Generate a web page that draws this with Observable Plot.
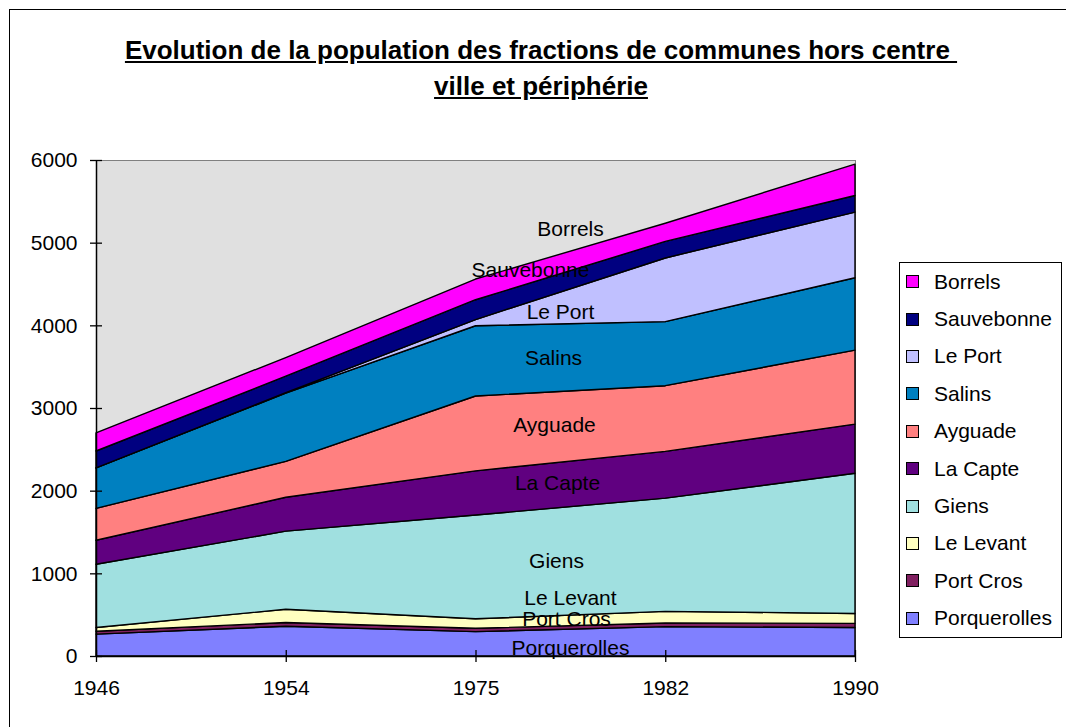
<!DOCTYPE html>
<html><head><meta charset="utf-8">
<script src="https://cdn.jsdelivr.net/npm/d3@7"></script>
<script src="https://cdn.jsdelivr.net/npm/@observablehq/plot@0.6"></script>
<style>
body{margin:0;background:#fff;font-family:"Liberation Sans",Arial,sans-serif;overflow:hidden}
#wrap{position:relative;width:1066px;height:727px;overflow:hidden}
#chart{position:absolute;left:0;top:0}
#frame{position:absolute;left:9px;top:9px;width:1100px;height:760px;border:1.5px solid #000;box-sizing:border-box}
#title{position:absolute;left:10px;width:1062px;top:32px;text-align:center;font-weight:bold;font-size:26px;line-height:36px;text-decoration:underline;white-space:pre}
#legend{position:absolute;left:899px;top:262px;width:163px;height:376px;border:1px solid #000;box-sizing:border-box;background:#fff}
.item{height:37.4px;display:flex;align-items:center;font-size:21px;color:#000}
.sw{width:11px;height:11px;border:1px solid #000;margin-left:6px;margin-right:15px;flex:none}
</style></head>
<body><div id="wrap"><div id="chart"></div><div id="frame"></div>
<div id="title"></div><div id="legend"></div></div>
<script>
const titleLines = ["Evolution de la population des fractions de communes hors centre\u00a0", "ville et périphérie"];
const years = ["1946", "1954", "1975", "1982", "1990"];
const yTicks = [0, 1000, 2000, 3000, 4000, 5000, 6000];
const series = ["Porquerolles", "Port Cros", "Le Levant", "Giens", "La Capte", "Ayguade", "Salins", "Le Port", "Sauvebonne", "Borrels"];
const porquerolles = [265, 360, 295, 355, 345];
const portCros = [35, 45, 40, 45, 50];
const leLevant = [45, 160, 115, 140, 120];
const giens = [765, 945, 1255, 1370, 1695];
const laCapte = [290, 410, 535, 565, 595];
const ayguade = [385, 435, 905, 795, 895];
const salins = [490, 825, 850, 775, 875];
const lePort = [0, 5, 75, 770, 795];
const sauvebonne = [205, 200, 240, 200, 200];
const borrels = [220, 225, 250, 220, 380];
const values = [porquerolles, portCros, leLevant, giens, laCapte, ayguade, salins, lePort, sauvebonne, borrels];
const colors = ["#8080FF", "#802060", "#FFFFC0", "#A0E0E0", "#600080", "#FF8080", "#0080C0", "#C0C0FF", "#000080", "#FF00FF"];

// label nudges (pixels) for series name labels
const nudge = {
  "Porquerolles": [11, 5], "Port Cros": [7, -9], "Le Levant": [11, -23], "Giens": [-3, -1],
  "La Capte": [-2, -2], "Ayguade": [-5, -2], "Salins": [-6, 0], "Le Port": [1, 4],
  "Sauvebonne": [-29, -13], "Borrels": [11, -36]
};

const rows = series.flatMap((s, k) => years.map((y, i) => ({i, year: y, series: s, value: values[k][i]})));

// label positions: mid-band between 1975 and 1982
const f = 0.44;
let cum = 0;
const labels = series.map((s, k) => {
  const v = values[k][2] + f * (values[k][3] - values[k][2]);
  const mid = cum + v / 2;
  cum += v;
  return {name: s, x: 2 + f, y: mid};
});

const font = "'Liberation Sans', Arial, sans-serif";
const plot = Plot.plot({
  width: 1066, height: 727,
  marginLeft: 96, marginRight: 211, marginTop: 160, marginBottom: 71,
  style: {background: "transparent", fontFamily: font, fontSize: "21px", color: "#000"},
  x: {domain: [0, 4], axis: null},
  y: {domain: [0, 6000], axis: null},
  color: {domain: series, range: colors},
  marks: [
    Plot.frame({fill: "#E0E0E0", stroke: "#808080"}),
    Plot.areaY(rows, {x: "i", y: "value", z: "series", fill: "series", order: series, stroke: "#000", strokeWidth: 1.4, strokeLinejoin: "round"}),
    Plot.ruleX([0], {stroke: "#000", strokeWidth: 1.5}),
    Plot.ruleY([0], {stroke: "#000", strokeWidth: 1.5}),
    Plot.ruleY(yTicks, {y: d => d, x1: 0, x2: 0, insetLeft: -6, insetRight: -6, stroke: "#000", strokeWidth: 1.3}),
    Plot.ruleX(years.map((_, i) => i), {x: d => d, y1: 0, y2: 0, insetTop: -6, insetBottom: -6, stroke: "#000", strokeWidth: 1.3}),
    Plot.axisY(yTicks, {tickSize: 0, tickPadding: 19, fontSize: 21, tickFormat: d => String(d)}),
    Plot.axisX(years.map((_, i) => i), {tickSize: 0, tickPadding: 24, fontSize: 21, tickFormat: i => years[i]}),
    ...labels.map(l => Plot.text([l], {x: "x", y: "y", text: "name", fontSize: 21, fill: "#000", dx: nudge[l.name][0], dy: nudge[l.name][1]}))
  ]
});
document.getElementById("chart").appendChild(plot);

document.getElementById("title").innerHTML = titleLines.map(t => `<div>${t}</div>`).join("");

const leg = d3.select("#legend");
series.slice().reverse().forEach(s => {
  const it = leg.append("div").attr("class", "item");
  it.append("div").attr("class", "sw").style("background", colors[series.indexOf(s)]);
  it.append("span").text(s);
});
</script>
</body></html>
